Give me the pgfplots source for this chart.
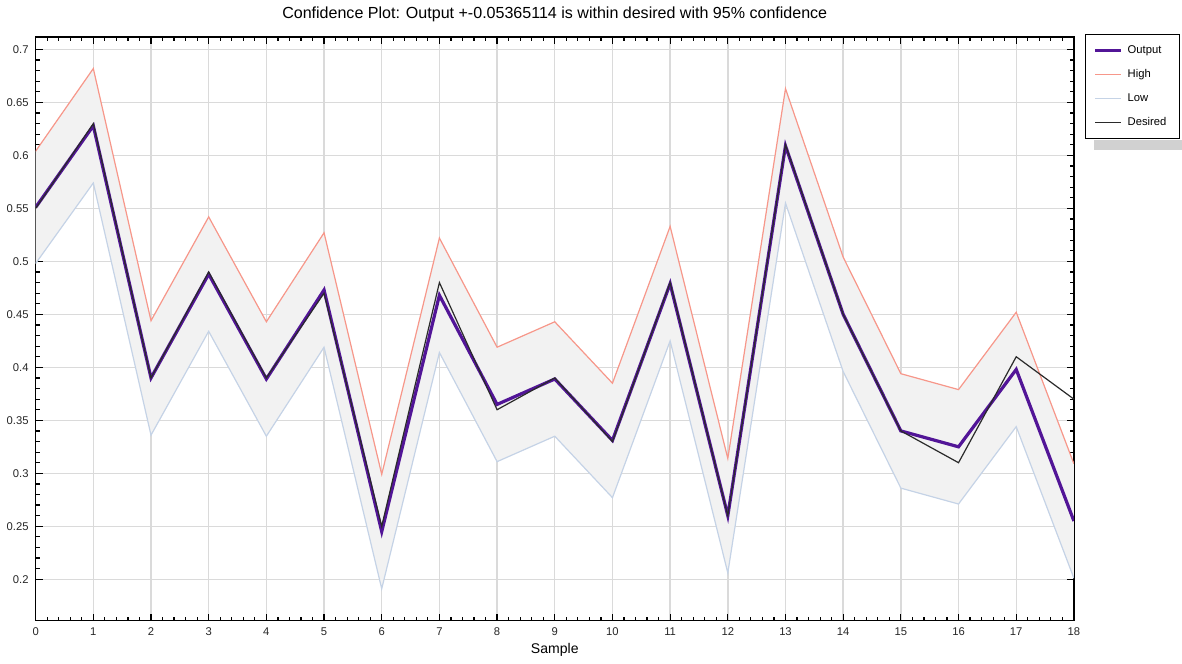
\documentclass[border=0pt]{standalone}
\usepackage{pgfplots}
\pgfplotsset{compat=1.18}
\usepgfplotslibrary{fillbetween}
\usepackage{fontspec}
\setmainfont{Liberation Sans}
\definecolor{outc}{HTML}{521597}
\definecolor{highc}{HTML}{F7978A}
\definecolor{lowc}{HTML}{C5D3E6}
\definecolor{desc}{HTML}{2A2A2A}
\definecolor{gridc}{HTML}{DADADA}
\definecolor{bandc}{HTML}{F2F2F2}
\begin{document}
\begin{tikzpicture}
\begin{axis}[
  scale only axis,
  width=517.5pt, height=291pt,
  xmin=0, xmax=18, ymin=0.161, ymax=0.712,
  xtick={0,...,18},
  ytick={0.2,0.25,0.3,0.35,0.4,0.45,0.5,0.55,0.6,0.65,0.7},
  minor x tick num=4, minor y tick num=4,
  tick align=inside,
  major tick length=3.5pt, minor tick length=2pt,
  tick style={black, line width=0.6pt},
  axis line style={black, line width=0.8pt},
  grid=major,
  major grid style={gridc, line width=0.7pt},
  /pgf/number format/assume math mode=true,
  yticklabel style={/pgf/number format/fixed, /pgf/number format/precision=2, font=\fontsize{5.6pt}{6pt}\selectfont, text=black!85},
  xticklabel style={font=\fontsize{5.6pt}{6pt}\selectfont, text=black!85},
  scaled y ticks=false,
  xlabel={Sample},
  xlabel style={font=\fontsize{7pt}{8pt}\selectfont, yshift=3pt},
  title={Confidence Plot: Output +-0.05365114 is within desired with 95\% confidence},
  title style={font=\fontsize{8pt}{9pt}\selectfont, yshift=-2pt},
  legend cell align=left,
  legend image code/.code={\draw[#1] (0pt,0pt) -- (13pt,0pt);},
  legend style={name=leg, at={(rel axis cs:1.0106,1.004)}, anchor=north west,
    font=\fontsize{5.6pt}{6pt}\selectfont, draw=black, line width=0.5pt,
    fill=white, inner xsep=4pt, inner ysep=3.2pt, row sep=2.5pt,
    nodes={inner xsep=2.5pt}},
]
\addplot[draw=none, name path=H, forget plot] coordinates {
(0,0.604)(1,0.682)(2,0.444)(3,0.542)(4,0.443)(5,0.527)(6,0.299)(7,0.522)(8,0.419)(9,0.443)(10,0.385)(11,0.533)(12,0.314)(13,0.663)(14,0.504)(15,0.394)(16,0.379)(17,0.452)(18,0.309)};
\addplot[draw=none, name path=L, forget plot] coordinates {
(0,0.498)(1,0.574)(2,0.336)(3,0.434)(4,0.335)(5,0.419)(6,0.191)(7,0.414)(8,0.311)(9,0.335)(10,0.277)(11,0.425)(12,0.206)(13,0.555)(14,0.396)(15,0.286)(16,0.271)(17,0.344)(18,0.201)};
\addplot[bandc, forget plot] fill between[of=H and L];
\addplot[outc, line width=1.6pt] coordinates {
(0,0.551)(1,0.628)(2,0.390)(3,0.488)(4,0.389)(5,0.473)(6,0.245)(7,0.468)(8,0.365)(9,0.389)(10,0.331)(11,0.479)(12,0.260)(13,0.609)(14,0.450)(15,0.340)(16,0.325)(17,0.398)(18,0.255)};
\addlegendentry{Output}
\addplot[highc, line width=0.6pt] coordinates {
(0,0.604)(1,0.682)(2,0.444)(3,0.542)(4,0.443)(5,0.527)(6,0.299)(7,0.522)(8,0.419)(9,0.443)(10,0.385)(11,0.533)(12,0.314)(13,0.663)(14,0.504)(15,0.394)(16,0.379)(17,0.452)(18,0.309)};
\addlegendentry{High}
\addplot[lowc, line width=0.6pt] coordinates {
(0,0.498)(1,0.574)(2,0.336)(3,0.434)(4,0.335)(5,0.419)(6,0.191)(7,0.414)(8,0.311)(9,0.335)(10,0.277)(11,0.425)(12,0.206)(13,0.555)(14,0.396)(15,0.286)(16,0.271)(17,0.344)(18,0.201)};
\addlegendentry{Low}
\addplot[desc, line width=0.6pt] coordinates {
(0,0.550)(1,0.630)(2,0.390)(3,0.490)(4,0.390)(5,0.470)(6,0.250)(7,0.480)(8,0.360)(9,0.390)(10,0.330)(11,0.480)(12,0.260)(13,0.610)(14,0.450)(15,0.340)(16,0.310)(17,0.410)(18,0.370)};
\addlegendentry{Desired}
\end{axis}
\fill[black!18] ([xshift=4.5pt,yshift=-0.3pt]leg.south west) rectangle ([xshift=1pt,yshift=-5.5pt]leg.south east);
\end{tikzpicture}
\end{document}
